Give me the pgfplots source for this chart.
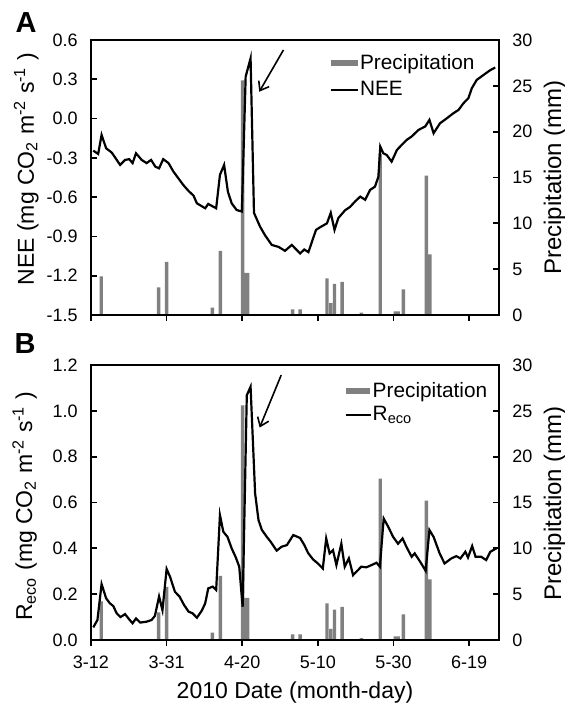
\documentclass[border=0pt]{standalone}
\usepackage{fontspec}
\setmainfont{Liberation Sans}
\usepackage{pgfplots}
\pgfplotsset{compat=1.18}
\usetikzlibrary{arrows.meta}
\definecolor{bargray}{RGB}{128,128,128}

\pgfplotsset{
  base/.style={
    scale only axis, width=204pt, height=137.5pt,
    xmin=0, xmax=107.9,
    /pgf/number format/assume math mode=true,
    tick label style={font=\fontsize{9}{10}\selectfont},
    label style={font=\fontsize{11.5}{13}\selectfont},
    axis line style={line width=0.85pt},
    tick style={line width=0.85pt, black},
    major tick length=3pt,
    tick align=inside,
  },
  leftax/.style={
    base,
    xtick={0,20,40,60,80,100},
    xtick pos=left, ytick pos=left,
    xtick style={yshift=-3pt},
    yticklabel style={anchor=east, xshift=-3.2pt,
      /pgf/number format/.cd, fixed, fixed zerofill, precision=1},
  },
  rightax/.style={
    base,
    axis y line*=right, axis x line=none,
    ymin=0, ymax=30, ytick={0,5,10,15,20,25,30},
    yticklabel style={anchor=west, xshift=3.2pt},
    ylabel={Precipitation (mm)},
    ybar, bar width=0.9,
    legend cell align=left,
  },
}

\begin{document}
\begin{tikzpicture}
\useasboundingbox (0,0) rectangle (282.5pt,352.5pt);

% ---------- Panel A : precipitation (right axis) ----------
\begin{axis}[rightax, at={(45.5pt,195pt)}, anchor=south west,
  ylabel style={at={(axis description cs:1.152,0.5)}, anchor=base, font=\fontsize{12}{13}\selectfont},
  legend style={at={(0.944,0.955)}, anchor=north east, draw=none, fill=none,
    font=\fontsize{10.4}{12}\selectfont, row sep=3.6pt, inner sep=0pt,
    nodes={inner sep=0.6pt}},
]
\addplot[fill=bargray, draw=none,
  legend image code/.code={\fill[bargray] (0pt,-1.7pt) rectangle (13.5pt,1.7pt);}]
  coordinates {
  (2.7,4.2) (17.9,3.0) (20.0,5.8) (32.1,0.8) (34.2,7.0)
  (40.1,25.6) (40.85,4.6) (41.4,4.6)
  (53.3,0.6) (55.3,0.6)
  (62.4,4.0) (63.4,1.3) (64.4,3.4) (66.4,3.6)
  (71.5,0.25) (76.5,17.6) (80.5,0.4) (81.2,0.4) (82.6,2.8)
  (88.7,15.2) (89.6,6.6)
};
\addlegendentry{Precipitation}
\addlegendimage{legend image code/.code={\draw[black, line width=1pt] (0pt,0pt) -- (13.5pt,0pt);}}
\addlegendentry{NEE}
\end{axis}

% ---------- Panel A : NEE (left axis) ----------
\begin{axis}[leftax, at={(45.5pt,195pt)}, anchor=south west,
  ymin=-1.5, ymax=0.6, ytick={-1.5,-1.2,-0.9,-0.6,-0.3,0,0.3,0.6},
  xticklabels={},
  ylabel={NEE (mg CO\textsubscript{2} m\textsuperscript{-2} s\textsuperscript{-1} )},
  ylabel style={at={(axis description cs:-0.140,0.53)}, anchor=base},
]
\addplot[black, line width=1.1pt] table {
x y
0.6 -0.245
1.9 -0.27
2.8 -0.125
4.0 -0.227
5.5 -0.26
7.7 -0.354
9.0 -0.316
10.1 -0.31
11.0 -0.34
11.9 -0.265
13.4 -0.316
14.7 -0.34
15.9 -0.316
17.0 -0.367
18.0 -0.38
19.1 -0.31
20.5 -0.34
21.8 -0.405
23.1 -0.456
24.4 -0.507
25.8 -0.553
27.1 -0.588
28.0 -0.647
30.2 -0.685
31.0 -0.652
33.1 -0.685
34.1 -0.43
35.2 -0.354
36.2 -0.558
37.2 -0.647
38.5 -0.698
39.9 -0.71
40.9 0.32
42.2 0.46
43.1 -0.72
44.7 -0.825
46.0 -0.89
47.8 -0.965
49.6 -0.98
51.3 -1.01
53.1 -0.965
55.3 -1.03
56.4 -1.0
57.5 -1.02
59.5 -0.85
60.6 -0.83
62.4 -0.80
63.4 -0.72
64.4 -0.85
65.4 -0.76
67.2 -0.70
68.5 -0.675
69.8 -0.634
71.2 -0.596
72.5 -0.62
73.8 -0.545
75.1 -0.52
76.0 -0.444
76.5 -0.214
77.3 -0.265
78.2 -0.278
79.5 -0.329
80.9 -0.24
82.2 -0.20
83.5 -0.163
84.8 -0.137
86.6 -0.087
88.4 -0.06
89.5 -0.01
90.6 -0.112
92.3 -0.036
94.1 0.002
95.8 0.04
97.2 0.066
98.5 0.117
99.8 0.155
100.7 0.231
102.0 0.295
103.8 0.333
105.6 0.37
106.9 0.39
};
\draw[line width=0.8pt, -{Straight Barb[length=4pt,width=6pt]}] (axis cs:50.9,0.524) -- (axis cs:44.5,0.205);
\end{axis}

% ---------- Panel B : precipitation (right axis) ----------
\begin{axis}[rightax, at={(45.5pt,32.5pt)}, anchor=south west,
  ylabel style={at={(axis description cs:1.152,0.496)}, anchor=base, font=\fontsize{12}{13}\selectfont},
  legend style={at={(0.975,0.944)}, anchor=north east, draw=none, fill=none,
    font=\fontsize{10.4}{12}\selectfont, row sep=1.8pt, inner sep=0pt,
    nodes={inner sep=0.6pt}},
]
\addplot[fill=bargray, draw=none,
  legend image code/.code={\fill[bargray] (0pt,-1.7pt) rectangle (12pt,1.7pt);}]
  coordinates {
  (2.7,4.2) (17.9,3.0) (20.0,5.8) (32.1,0.8) (34.2,7.0)
  (40.1,25.6) (40.85,4.6) (41.4,4.6)
  (53.3,0.6) (55.3,0.6)
  (62.4,4.0) (63.4,1.2) (64.4,3.3) (66.4,3.6)
  (71.5,0.2) (76.5,17.6) (80.5,0.4) (81.2,0.4) (82.6,2.8)
  (88.7,15.2) (89.6,6.6)
};
\addlegendentry{Precipitation}
\addlegendimage{legend image code/.code={\draw[black, line width=1pt] (0pt,0pt) -- (12.5pt,0pt);}}
\addlegendentry{R\textsubscript{eco}}
\end{axis}

% ---------- Panel B : Reco (left axis) ----------
\begin{axis}[leftax, at={(45.5pt,32.5pt)}, anchor=south west,
  ymin=0, ymax=1.2, ytick={0,0.2,0.4,0.6,0.8,1.0,1.2},
  xticklabels={3-12,3-31,4-20,5-10,5-30,6-19},
  xticklabel style={anchor=base, yshift=-14.5pt},
  xlabel={2010 Date (month-day)},
  xlabel style={at={(axis description cs:0.5,0)}, anchor=base, yshift=-29.5pt,
    font=\fontsize{11.5}{13}\selectfont},
  ylabel={R\textsubscript{eco} (mg CO\textsubscript{2} m\textsuperscript{-2} s\textsuperscript{-1} )},
  ylabel style={at={(axis description cs:-0.144,0.486)}, anchor=base},
]
\addplot[black, line width=1.1pt] table {
x y
0.6 0.055
1.7 0.087
2.8 0.244
4.0 0.182
5.0 0.16
5.9 0.148
6.8 0.116
7.8 0.10
9.0 0.113
10.1 0.09
11.0 0.073
11.9 0.094
13.0 0.076
14.7 0.08
16.0 0.087
16.9 0.105
18.0 0.19
18.9 0.13
20.0 0.31
20.9 0.276
22.2 0.21
23.4 0.19
24.6 0.153
25.8 0.124
26.9 0.116
28.0 0.097
29.3 0.128
30.2 0.16
31.0 0.225
32.2 0.233
33.1 0.218
34.1 0.545
35.0 0.472
36.1 0.45
37.2 0.40
38.3 0.36
39.2 0.32
40.1 0.145
41.2 1.068
42.2 1.105
43.4 0.64
44.3 0.523
45.2 0.48
46.5 0.45
47.5 0.429
49.1 0.39
50.4 0.407
51.8 0.414
53.5 0.458
55.3 0.445
56.4 0.415
57.4 0.38
58.7 0.352
60.0 0.334
61.3 0.312
62.2 0.443
63.1 0.378
64.0 0.392
64.9 0.327
66.2 0.42
67.1 0.32
68.2 0.356
69.3 0.283
70.6 0.305
71.5 0.32
72.8 0.317
74.2 0.327
75.5 0.337
76.4 0.32
77.4 0.53
78.6 0.494
79.9 0.45
81.2 0.42
82.4 0.443
83.4 0.407
84.8 0.363
85.6 0.378
87.1 0.34
88.5 0.302
89.5 0.48
90.6 0.45
92.2 0.378
93.5 0.334
95.3 0.356
96.6 0.366
97.7 0.356
99.0 0.385
99.7 0.36
100.8 0.41
101.7 0.363
103.2 0.363
104.5 0.349
105.6 0.385
107.2 0.40
};
\draw[line width=0.8pt, -{Straight Barb[length=4pt,width=6pt]}] (axis cs:50.3,1.156) -- (axis cs:44.6,0.927);
\end{axis}

\node[font=\bfseries\fontsize{14.5}{16}\selectfont, anchor=center] at (13pt,341pt) {A};
\node[font=\bfseries\fontsize{14.5}{16}\selectfont, anchor=center] at (12.5pt,180.5pt) {B};
\end{tikzpicture}
\end{document}
